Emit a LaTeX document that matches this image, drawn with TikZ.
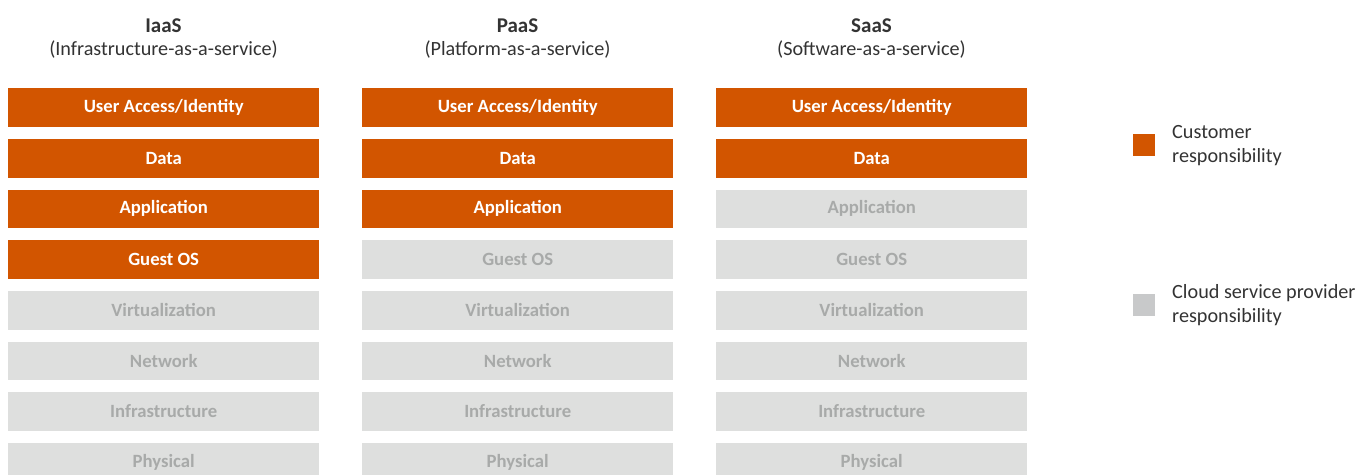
\documentclass[tikz,border=0pt]{standalone}
\usepackage{fontspec}
\setmainfont{Carlito}
\definecolor{cust}{RGB}{210,85,0}
\definecolor{prov}{RGB}{222,223,222}
\definecolor{provtext}{RGB}{168,170,169}
\definecolor{legprov}{RGB}{200,201,202}
\definecolor{txt}{RGB}{51,51,51}
\tikzset{
  layer/.style={minimum width=311pt, minimum height=38.7pt, inner sep=0pt, anchor=north west, font=\fontsize{18.7}{20}\selectfont\bfseries},
  custbox/.style={layer, fill=cust, text=white},
  provbox/.style={layer, fill=prov, text=provtext},
  ttl/.style={font=\fontsize{21}{23}\selectfont\bfseries, text=txt, anchor=center},
  sub/.style={font=\fontsize{20.2}{22}\selectfont, text=txt, anchor=center},
  legsq/.style={minimum size=22pt, inner sep=0pt, anchor=north west},
  legtxt/.style={font=\fontsize{20.2}{24}\selectfont, text=txt, align=left, anchor=west, inner sep=0pt}
}
\begin{document}
\begin{tikzpicture}[x=1pt, y=-1pt]
\useasboundingbox (0,0) rectangle (1359,474);
\clip (0,0) rectangle (1359,474);
% titles
\node[ttl] (t1) at (163.5,25.5) {IaaS};
\node[sub] (s1) at (163.5,50) {(Infrastructure-as-a-service)};
\node[ttl] (t2) at (517.5,25.5) {PaaS};
\node[sub] (s2) at (517.5,50) {(Platform-as-a-service)};
\node[ttl] (t3) at (871.5,25.5) {SaaS};
\node[sub] (s3) at (871.5,50) {(Software-as-a-service)};
% IaaS column
\node[custbox] (i1) at (8,88) {User Access/Identity};
\node[custbox] (i2) at (8,138.67) {Data};
\node[custbox] (i3) at (8,189.33) {Application};
\node[custbox] (i4) at (8,240) {Guest OS};
\node[provbox] (i5) at (8,290.67) {Virtualization};
\node[provbox] (i6) at (8,341.33) {Network};
\node[provbox] (i7) at (8,392) {Infrastructure};
\node[provbox] (i8) at (8,442.67) {Physical};
% PaaS column
\node[custbox] (p1) at (362,88) {User Access/Identity};
\node[custbox] (p2) at (362,138.67) {Data};
\node[custbox] (p3) at (362,189.33) {Application};
\node[provbox] (p4) at (362,240) {Guest OS};
\node[provbox] (p5) at (362,290.67) {Virtualization};
\node[provbox] (p6) at (362,341.33) {Network};
\node[provbox] (p7) at (362,392) {Infrastructure};
\node[provbox] (p8) at (362,442.67) {Physical};
% SaaS column
\node[custbox] (q1) at (716,88) {User Access/Identity};
\node[custbox] (q2) at (716,138.67) {Data};
\node[provbox] (q3) at (716,189.33) {Application};
\node[provbox] (q4) at (716,240) {Guest OS};
\node[provbox] (q5) at (716,290.67) {Virtualization};
\node[provbox] (q6) at (716,341.33) {Network};
\node[provbox] (q7) at (716,392) {Infrastructure};
\node[provbox] (q8) at (716,442.67) {Physical};
% legend
\node[legsq, fill=cust] (lc) at (1133,134) {};
\node[legtxt] (lct) at (1172,145.5) {Customer\\responsibility};
\node[legsq, fill=legprov] (lp) at (1133,294) {};
\node[legtxt] (lpt) at (1172,305.5) {Cloud service provider\\responsibility};
\end{tikzpicture}
\end{document}
